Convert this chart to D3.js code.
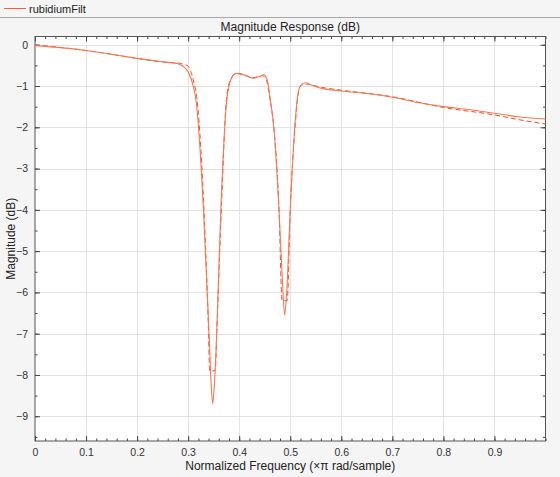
<!DOCTYPE html>
<html>
<head>
<meta charset="utf-8">
<script src="https://cdn.jsdelivr.net/npm/d3@7"></script>
<style>
  body { margin: 0; background: #f5f5f5; }
  svg { display: block; font-family: "Liberation Sans", Arial, sans-serif; }
</style>
</head>
<body>
<svg id="chart" width="560" height="477"></svg>
<script>
// filter response (solid)
var freq = [0, 0.05, 0.1, 0.15, 0.2, 0.25, 0.27, 0.28, 0.29, 0.3, 0.31, 0.316, 0.33, 0.341, 0.345, 0.348,
	0.351, 0.355, 0.364, 0.376, 0.38, 0.386, 0.392, 0.4, 0.41, 0.427, 0.44, 0.448, 0.455, 0.461,
	0.467, 0.478, 0.485, 0.489, 0.493, 0.5, 0.51, 0.515, 0.52, 0.529, 0.54, 0.56, 0.6, 0.65,
	0.7, 0.75, 0.8, 0.85, 0.9, 0.95, 1.0];
var mag = [-0.02, -0.07, -0.14, -0.23, -0.33, -0.41, -0.44, -0.46, -0.52, -0.66, -1.0, -1.4, -4.0, -7.0, -8.2, -8.7,
	-8.3, -7.3, -4.0, -1.3, -1.0, -0.78, -0.7, -0.69, -0.73, -0.81, -0.77, -0.73, -0.85, -1.34,
	-1.9, -4.0, -5.8, -6.55, -6.0, -4.0, -1.8, -1.2, -1.0, -0.92, -0.97, -1.05, -1.12, -1.18,
	-1.27, -1.4, -1.5, -1.57, -1.66, -1.75, -1.8];

// desired response (dashed)
var specFreq = [0, 0.1, 0.2, 0.25, 0.28, 0.29, 0.3, 0.305, 0.31, 0.318, 0.331, 0.34, 0.342, 0.353, 0.356,
	0.365, 0.376, 0.385, 0.395, 0.41, 0.427, 0.445, 0.453, 0.46, 0.467, 0.478, 0.484, 0.494,
	0.5, 0.51, 0.515, 0.52, 0.53, 0.56, 0.6, 0.7, 0.8, 0.9, 0.95, 1.0];
var specMag = [0, -0.14, -0.33, -0.42, -0.44, -0.47, -0.52, -0.65, -0.85, -1.4, -4.0, -7.0, -7.9, -7.9, -7.0,
	-4.0, -1.2, -0.8, -0.7, -0.74, -0.8, -0.75, -0.85, -1.3, -1.9, -4.0, -6.2, -6.2,
	-4.0, -1.9, -1.25, -1.0, -0.95, -1.03, -1.1, -1.26, -1.52, -1.7, -1.82, -1.92];

var xTicks = [0, 0.1, 0.2, 0.3, 0.4, 0.5, 0.6, 0.7, 0.8, 0.9];
var yTicks = [0, -1, -2, -3, -4, -5, -6, -7, -8, -9];

var lineColor = "#f45f3a";

var svg = d3.select("#chart");
var pL = 35, pR = 545.5, pT = 36.5, pB = 441;

var x = d3.scaleLinear().domain([0, 1]).range([pL, pR]);
var y = d3.scaleLinear().domain([-9.6, 0.2]).range([pB, pT]);

// legend strip
svg.append("line").attr("x1", 0).attr("x2", 560).attr("y1", 17.5).attr("y2", 17.5)
	.attr("stroke", "#a8a8a8");
svg.append("line").attr("x1", 4).attr("x2", 26).attr("y1", 8.5).attr("y2", 8.5)
	.attr("stroke", lineColor).attr("stroke-width", 1);
svg.append("text").attr("x", 29).attr("y", 12.5).attr("font-size", 11).attr("fill", "#222")
	.text("rubidiumFilt");

// plot background
svg.append("rect").attr("x", pL).attr("y", pT).attr("width", pR - pL).attr("height", pB - pT)
	.attr("fill", "#fff");

// grid
var grid = svg.append("g").attr("stroke", "#e3e3e3").attr("stroke-width", 1);
xTicks.slice(1).forEach(function(t) {
	grid.append("line").attr("x1", Math.round(x(t)) + 0.5).attr("x2", Math.round(x(t)) + 0.5)
		.attr("y1", pT).attr("y2", pB);
});
yTicks.forEach(function(t) {
	grid.append("line").attr("x1", pL).attr("x2", pR)
		.attr("y1", Math.round(y(t)) + 0.5).attr("y2", Math.round(y(t)) + 0.5);
});

// axes, ticks inside the box
var minorX = d3.range(0, 1.0001, 0.02);
var minorY = d3.range(0, -9.6, -0.5);

function drawAxis(axis, tr, vals, size, labels) {
	var g = svg.append("g").attr("transform", tr)
		.call(axis.tickValues(vals).tickSize(size).tickFormat(labels ? d3.format("") : ""));
	g.select(".domain").remove();
	g.selectAll("line").attr("stroke", "#444");
	g.selectAll("text").attr("fill", "#333").attr("font-size", 10.5).attr("font-family", null);
	return g;
}

drawAxis(d3.axisBottom(x), "translate(0," + pB + ")", minorX, -2.5, false);
drawAxis(d3.axisTop(x), "translate(0," + pT + ")", minorX, -2.5, false);
var xb = drawAxis(d3.axisBottom(x), "translate(0," + pB + ")", xTicks, -5, true);
xb.selectAll("text").attr("y", 8);
drawAxis(d3.axisTop(x), "translate(0," + pT + ")", xTicks, -5, false);

drawAxis(d3.axisLeft(y), "translate(" + pL + ",0)", minorY, -2.5, false);
drawAxis(d3.axisRight(y), "translate(" + pR + ",0)", minorY, -2.5, false);
var yl = drawAxis(d3.axisLeft(y), "translate(" + pL + ",0)", yTicks, -5, true);
yl.selectAll("text").attr("x", -7);
drawAxis(d3.axisRight(y), "translate(" + pR + ",0)", yTicks, -5, false);

// box
svg.append("rect").attr("x", pL).attr("y", pT).attr("width", pR - pL).attr("height", pB - pT)
	.attr("fill", "none").attr("stroke", "#555").attr("stroke-width", 1);

// curves
svg.append("clipPath").attr("id", "clip").append("rect")
	.attr("x", pL).attr("y", pT).attr("width", pR - pL).attr("height", pB - pT);

var line = d3.line()
	.x(function(d) { return x(d[0]); })
	.y(function(d) { return y(d[1]); })
	.curve(d3.curveMonotoneX);

svg.append("path")
	.datum(d3.zip(specFreq, specMag))
	.attr("clip-path", "url(#clip)")
	.attr("d", line)
	.attr("fill", "none")
	.attr("stroke", "#f5482c")
	.attr("stroke-width", 1)
	.attr("stroke-dasharray", "5,3");

svg.append("path")
	.datum(d3.zip(freq, mag))
	.attr("clip-path", "url(#clip)")
	.attr("d", line)
	.attr("fill", "none")
	.attr("stroke", "#f37a55")
	.attr("stroke-width", 1.1);

// titles
svg.append("text").attr("x", (pL + pR) / 2).attr("y", 31).attr("text-anchor", "middle")
	.attr("font-size", 12).attr("fill", "#222").text("Magnitude Response (dB)");
svg.append("text").attr("x", (pL + pR) / 2).attr("y", 470).attr("text-anchor", "middle")
	.attr("font-size", 12).attr("fill", "#222").text("Normalized Frequency (\u00d7\u03c0 rad/sample)");
svg.append("text").attr("transform", "translate(15," + ((pT + pB) / 2) + ") rotate(-90)")
	.attr("text-anchor", "middle").attr("font-size", 12).attr("fill", "#222").text("Magnitude (dB)");
</script>
</body>
</html>
